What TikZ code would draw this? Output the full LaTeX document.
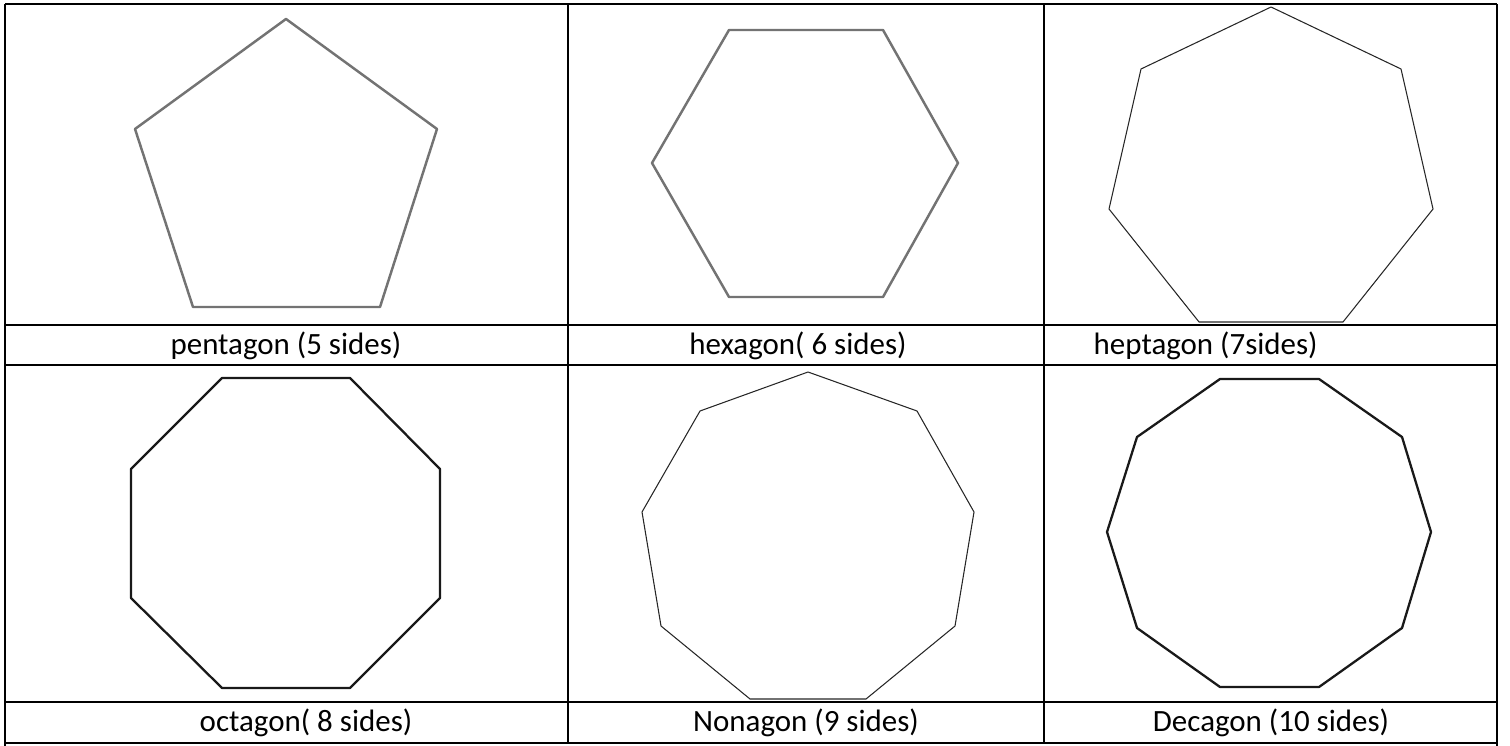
\documentclass[tikz,border=0pt]{standalone}
\usepackage{fontspec}
\setmainfont{Carlito}
\begin{document}
\begin{tikzpicture}[
  x=0.01cm, y=-0.01cm,
  grid/.style={draw=black, line width=0.75pt},
  greypoly/.style={draw=black!55, line width=0.7pt, line join=round},
  thinpoly/.style={draw=black!85, line width=0.3pt, line join=round},
  darkpoly/.style={draw=black!90, line width=0.65pt, line join=round},
  lbl/.style={font=\fontsize{8.8}{10}\selectfont, inner sep=0pt},
]
  \useasboundingbox (0,0) rectangle (1510,746);
  % Table rules
  \draw[grid] (5,4) -- (1497,4);
  \draw[grid] (5,325) -- (1497,325);
  \draw[grid] (5,365) -- (1497,365);
  \draw[grid] (5,702) -- (1497,702);
  \draw[grid] (5,743) -- (1497,743);
  \draw[grid] (5,4) -- (5,746);
  \draw[grid] (1497,4) -- (1497,746);
  \draw[grid] (568,4) -- (568,743);
  \draw[grid] (1044,4) -- (1044,743);

  % Pentagon
  \draw[greypoly] (286,19) -- (437,129) -- (380,307) -- (193,307) -- (135,129) -- cycle;
  % Hexagon
  \draw[greypoly] (729,30) -- (883,30) -- (958,163) -- (883,297) -- (729,297) -- (652,163) -- cycle;
  % Heptagon
  \draw[thinpoly] (1271,7) -- (1401,69) -- (1433,209) -- (1343,322) -- (1199,322) -- (1109,209) -- (1141,69) -- cycle;
  % Octagon
  \draw[darkpoly] (222,378) -- (350,378) -- (440,469) -- (440,598) -- (350,688) -- (222,688) -- (131,598) -- (131,469) -- cycle;
  % Nonagon
  \draw[thinpoly] (808,372) -- (917,411) -- (974,512) -- (955,626) -- (866,699) -- (750,699) -- (661,626) -- (642,512) -- (700,411) -- cycle;
  % Decagon
  \draw[darkpoly] (1220,379) -- (1319,379) -- (1402,437) -- (1431,532) -- (1402,628) -- (1319,687) -- (1220,687) -- (1137,628) -- (1107,532) -- (1137,437) -- cycle;

  % Labels
  \node[lbl] (pent) at (286,346) {pentagon (5 sides)};
  \node[lbl] (hex)  at (798,346) {hexagon( 6 sides)};
  \node[lbl, anchor=west] (hept) at (1093,346) {heptagon (7sides)};
  \node[lbl] (oct)  at (306,723) {octagon( 8 sides)};
  \node[lbl] (non)  at (806,723) {Nonagon (9 sides)};
  \node[lbl] (dec)  at (1271,723) {Decagon (10 sides)};
\end{tikzpicture}
\end{document}
